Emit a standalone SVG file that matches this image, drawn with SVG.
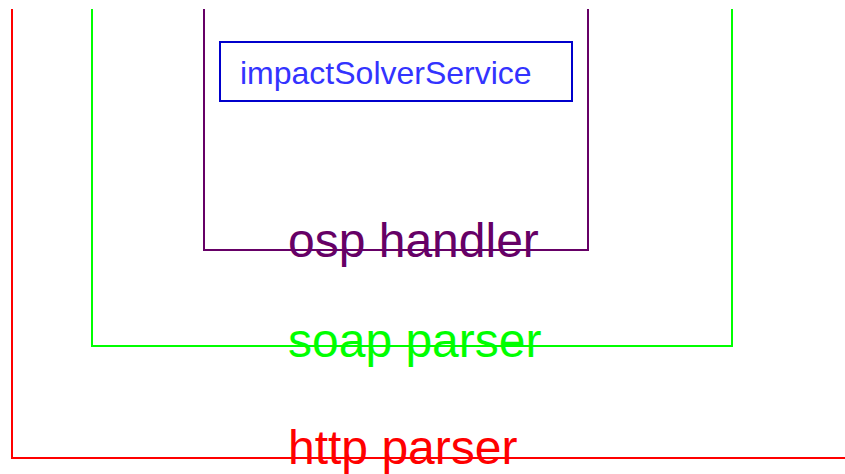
<svg xmlns="http://www.w3.org/2000/svg" width="845" height="474" viewBox="0 0 845 474">
  <style>
    .frame { fill: none; stroke-width: 2; }
    .label { font-family: "Liberation Sans", Arial, sans-serif; font-size: 48px; }
    .svc { font-family: "Liberation Sans", Arial, sans-serif; font-size: 32px; fill: #3333ff; }
  </style>
  <rect width="845" height="474" fill="#ffffff"/>
  <!-- outer layer: http parser -->
  <g id="http-parser">
    <polyline class="frame" stroke="#ff0000" points="12,9 12,458 845,458"/>
    <text class="label" x="288" y="464" fill="#ff0000">http parser</text>
  </g>
  <!-- soap parser -->
  <g id="soap-parser">
    <polyline class="frame" stroke="#00ff00" points="92,9 92,346 732,346 732,9"/>
    <text class="label" x="288" y="357" fill="#00ff00">soap parser</text>
  </g>
  <!-- osp handler -->
  <g id="osp-handler">
    <polyline class="frame" stroke="#660066" points="204,9 204,250 588,250 588,9"/>
    <text class="label" x="288" y="257" fill="#660066">osp handler</text>
  </g>
  <!-- innermost service -->
  <g id="impact-solver-service">
    <rect x="220" y="42" width="352" height="59" fill="none" stroke="#0000cc" stroke-width="2"/>
    <text class="svc" x="240" y="84">impactSolverService</text>
  </g>
  <g id="connectors"></g>
</svg>
